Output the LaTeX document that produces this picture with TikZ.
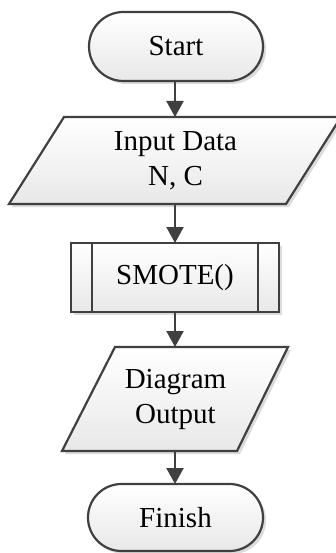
\documentclass[tikz,border=0pt]{standalone}
\usepackage{fontspec}
\setmainfont{Liberation Serif}
\usetikzlibrary{shapes.misc,shadows,arrows.meta}
\definecolor{lc}{HTML}{404040}
\begin{document}
\begin{tikzpicture}[x=1pt,y=-1pt,
  line/.style={draw=lc, line width=2.2pt},
  shp/.style={line, top color=white, bottom color=black!9,
    drop shadow={shadow xshift=3pt, shadow yshift=-3pt, fill=black!14, opacity=1}},
  txt/.style={font=\fontsize{29}{35}\selectfont, align=center, inner sep=0pt, outer sep=0pt},
  term/.style={shp, txt, rounded rectangle, minimum width=174pt, minimum height=69pt},
  proc/.style={shp, txt, rectangle, minimum width=208pt, minimum height=69pt},
  anchorbox/.style={txt, rectangle},
  arr/.style={line, -{Triangle[width=17pt,length=16pt]}}]
\useasboundingbox (0,0) rectangle (336,553);
\clip (0,0) rectangle (336,553);
% Start
\node[term] (start) at (176,46.5) {Start};
% Input parallelogram
\path[shp] (64,117) -- (341,117) -- (286,204) -- (9,204) -- cycle;
\node[anchorbox, minimum height=87pt] (input) at (175.5,160.5) {Input Data\\N, C};
% SMOTE predefined process
\node[proc] (smote) at (175,277.5) {SMOTE()};
\draw[line] ([xshift=21pt]smote.north west) -- ([xshift=21pt]smote.south west);
\draw[line] ([xshift=-21pt]smote.north east) -- ([xshift=-21pt]smote.south east);
% Output parallelogram
\path[shp] (115,347) -- (288,347) -- (237,451) -- (62,451) -- cycle;
\node[anchorbox, minimum height=104pt] (output) at (175.5,399) {Diagram\\Output};
% Finish
\node[term, minimum width=175pt, minimum height=67pt] (finish) at (175.5,517.5) {Finish};
% Connectors
\draw[arr] (smote.north |- start.south) -- (smote.north |- input.north);
\draw[arr] (smote.north |- input.south) -- (smote.north);
\draw[arr] (smote.south) -- (smote.south |- output.north);
\draw[arr] (smote.south |- output.south) -- (smote.south |- finish.north);
\end{tikzpicture}
\end{document}
